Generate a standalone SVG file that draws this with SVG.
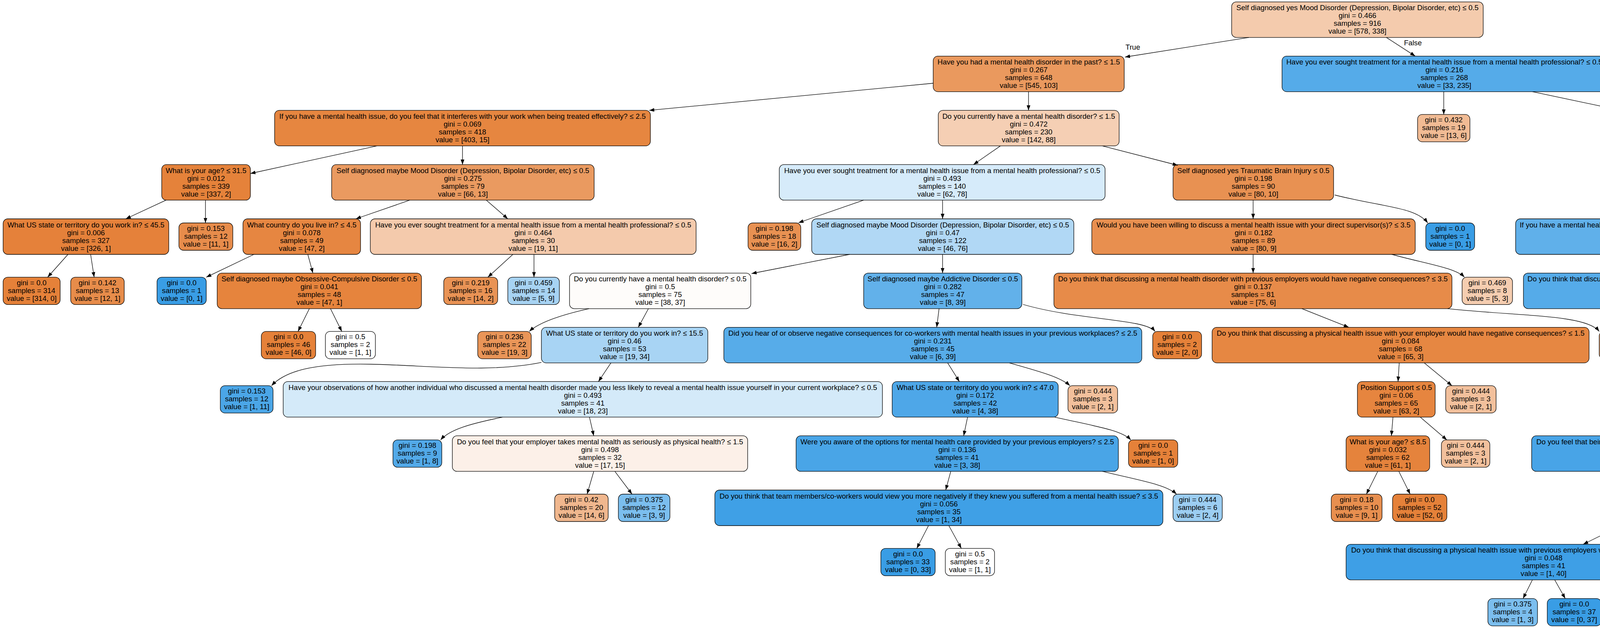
<svg xmlns="http://www.w3.org/2000/svg" width="6054" height="1607" viewBox="0 0 6054 1607">
<defs>
<marker id="arr" markerUnits="userSpaceOnUse" markerWidth="15" markerHeight="11" refX="13" refY="4.7" orient="auto"><path d="M0,0 L13,4.7 L0,9.4 z" fill="#000"/></marker>
<style>
.n rect{stroke:#000;stroke-width:1.3}
text{font-family:"Liberation Sans",Helvetica,Arial,sans-serif;font-size:18.6px;text-anchor:middle;fill:#000}
#edges path{fill:none;stroke:#000;stroke-width:1.3;marker-end:url(#arr)}
</style>
</defs>
<rect width="6054" height="1607" fill="#fff"/>
<g id="nodes">
<g id="n0" class="n"><rect x="3153" y="4.8" width="644" height="91" rx="12" fill="#f4cbad"/><text x="3475" y="26.3">Self diagnosed yes Mood Disorder (Depression, Bipolar Disorder, etc) &#8804; 0.5<tspan x="3475" dy="20">gini = 0.466</tspan><tspan x="3475" dy="20">samples = 916</tspan><tspan x="3475" dy="20">value = [578, 338]</tspan></text></g>
<g id="n1" class="n"><rect x="2389" y="143.6" width="489" height="91" rx="12" fill="#ea995e"/><text x="2633.5" y="165.1">Have you had a mental health disorder in the past? &#8804; 1.5<tspan x="2633.5" dy="20">gini = 0.267</tspan><tspan x="2633.5" dy="20">samples = 648</tspan><tspan x="2633.5" dy="20">value = [545, 103]</tspan></text></g>
<g id="n2" class="n"><rect x="3282" y="143.6" width="831" height="91" rx="12" fill="#55abe9"/><text x="3697.5" y="165.1">Have you ever sought treatment for a mental health issue from a mental health professional? &#8804; 0.5<tspan x="3697.5" dy="20">gini = 0.216</tspan><tspan x="3697.5" dy="20">samples = 268</tspan><tspan x="3697.5" dy="20">value = [33, 235]</tspan></text></g>
<g id="n3" class="n"><rect x="703" y="282.4" width="962" height="91" rx="12" fill="#e68640"/><text x="1184" y="303.9">If you have a mental health issue, do you feel that it interferes with your work when being treated effectively? &#8804; 2.5<tspan x="1184" dy="20">gini = 0.069</tspan><tspan x="1184" dy="20">samples = 418</tspan><tspan x="1184" dy="20">value = [403, 15]</tspan></text></g>
<g id="n4" class="n"><rect x="2402" y="282.4" width="463" height="91" rx="12" fill="#f5cfb4"/><text x="2633.5" y="303.9">Do you currently have a mental health disorder? &#8804; 1.5<tspan x="2633.5" dy="20">gini = 0.472</tspan><tspan x="2633.5" dy="20">samples = 230</tspan><tspan x="2633.5" dy="20">value = [142, 88]</tspan></text></g>
<g id="n5" class="n"><rect x="3629" y="292.9" width="134" height="70" rx="12" fill="#f1bb94"/><text x="3696" y="313.2">gini = 0.432<tspan x="3696" dy="20">samples = 19</tspan><tspan x="3696" dy="20">value = [13, 6]</tspan></text></g>
<g id="n6" class="n"><rect x="4212" y="282.4" width="336" height="91" rx="12" fill="#4aa6e7"/><text x="4380" y="303.9">Self diagnosed yes Transgender &#8804; 0.5<tspan x="4380" dy="20">gini = 0.148</tspan><tspan x="4380" dy="20">samples = 249</tspan><tspan x="4380" dy="20">value = [20, 229]</tspan></text></g>
<g id="n7" class="n"><rect x="414" y="421.2" width="227" height="91" rx="12" fill="#e5823a"/><text x="527.5" y="442.7">What is your age? &#8804; 31.5<tspan x="527.5" dy="20">gini = 0.012</tspan><tspan x="527.5" dy="20">samples = 339</tspan><tspan x="527.5" dy="20">value = [337, 2]</tspan></text></g>
<g id="n8" class="n"><rect x="849" y="421.2" width="672" height="91" rx="12" fill="#ea9a60"/><text x="1185" y="442.7">Self diagnosed maybe Mood Disorder (Depression, Bipolar Disorder, etc) &#8804; 0.5<tspan x="1185" dy="20">gini = 0.275</tspan><tspan x="1185" dy="20">samples = 79</tspan><tspan x="1185" dy="20">value = [66, 13]</tspan></text></g>
<g id="n9" class="n"><rect x="1995" y="421.2" width="834" height="91" rx="12" fill="#d6ebfa"/><text x="2412" y="442.7">Have you ever sought treatment for a mental health issue from a mental health professional? &#8804; 0.5<tspan x="2412" dy="20">gini = 0.493</tspan><tspan x="2412" dy="20">samples = 140</tspan><tspan x="2412" dy="20">value = [62, 78]</tspan></text></g>
<g id="n10" class="n"><rect x="3003" y="421.2" width="411" height="91" rx="12" fill="#e89152"/><text x="3208.5" y="442.7">Self diagnosed yes Traumatic Brain Injury &#8804; 0.5<tspan x="3208.5" dy="20">gini = 0.198</tspan><tspan x="3208.5" dy="20">samples = 90</tspan><tspan x="3208.5" dy="20">value = [80, 10]</tspan></text></g>
<g id="n11" class="n"><rect x="4268" y="421.2" width="225" height="91" rx="12" fill="#49a5e7"/><text x="4380.5" y="442.7">What is your age? &#8804; 10.5<tspan x="4380.5" dy="20">gini = 0.141</tspan><tspan x="4380.5" dy="20">samples = 248</tspan><tspan x="4380.5" dy="20">value = [19, 229]</tspan></text></g>
<g id="n12" class="n"><rect x="4521" y="431.7" width="126" height="70" rx="12" fill="#e58139"/><text x="4584" y="452">gini = 0.0<tspan x="4584" dy="20">samples = 1</tspan><tspan x="4584" dy="20">value = [1, 0]</tspan></text></g>
<g id="n13" class="n"><rect x="8" y="560" width="424" height="91" rx="12" fill="#e5813a"/><text x="220" y="581.5">What US state or territory do you work in? &#8804; 45.5<tspan x="220" dy="20">gini = 0.006</tspan><tspan x="220" dy="20">samples = 327</tspan><tspan x="220" dy="20">value = [326, 1]</tspan></text></g>
<g id="n14" class="n"><rect x="458" y="570.5" width="138" height="70" rx="12" fill="#e78c4b"/><text x="527" y="590.8">gini = 0.153<tspan x="527" dy="20">samples = 12</tspan><tspan x="527" dy="20">value = [11, 1]</tspan></text></g>
<g id="n15" class="n"><rect x="622" y="560" width="301" height="91" rx="12" fill="#e68641"/><text x="772.5" y="581.5">What country do you live in? &#8804; 4.5<tspan x="772.5" dy="20">gini = 0.078</tspan><tspan x="772.5" dy="20">samples = 49</tspan><tspan x="772.5" dy="20">value = [47, 2]</tspan></text></g>
<g id="n16" class="n"><rect x="948" y="560" width="834" height="91" rx="12" fill="#f4caac"/><text x="1365" y="581.5">Have you ever sought treatment for a mental health issue from a mental health professional? &#8804; 0.5<tspan x="1365" dy="20">gini = 0.464</tspan><tspan x="1365" dy="20">samples = 30</tspan><tspan x="1365" dy="20">value = [19, 11]</tspan></text></g>
<g id="n17" class="n"><rect x="1915" y="570.5" width="135" height="70" rx="12" fill="#e89152"/><text x="1982.5" y="590.8">gini = 0.198<tspan x="1982.5" dy="20">samples = 18</tspan><tspan x="1982.5" dy="20">value = [16, 2]</tspan></text></g>
<g id="n18" class="n"><rect x="2078" y="560" width="671" height="91" rx="12" fill="#b1d8f5"/><text x="2413.5" y="581.5">Self diagnosed maybe Mood Disorder (Depression, Bipolar Disorder, etc) &#8804; 0.5<tspan x="2413.5" dy="20">gini = 0.47</tspan><tspan x="2413.5" dy="20">samples = 122</tspan><tspan x="2413.5" dy="20">value = [46, 76]</tspan></text></g>
<g id="n19" class="n"><rect x="2795" y="560" width="828" height="91" rx="12" fill="#e88f4f"/><text x="3209" y="581.5">Would you have been willing to discuss a mental health issue with your direct supervisor(s)? &#8804; 3.5<tspan x="3209" dy="20">gini = 0.182</tspan><tspan x="3209" dy="20">samples = 89</tspan><tspan x="3209" dy="20">value = [80, 9]</tspan></text></g>
<g id="n20" class="n"><rect x="3650" y="570.5" width="125" height="70" rx="12" fill="#399de5"/><text x="3712.5" y="590.8">gini = 0.0<tspan x="3712.5" dy="20">samples = 1</tspan><tspan x="3712.5" dy="20">value = [0, 1]</tspan></text></g>
<g id="n21" class="n"><rect x="3880" y="560" width="1003" height="91" rx="12" fill="#60b0ea"/><text x="4381.5" y="581.5">If you have a mental health issue, do you feel that it interferes with your work when NOT being treated effectively? &#8804; 3.5<tspan x="4381.5" dy="20">gini = 0.274</tspan><tspan x="4381.5" dy="20">samples = 55</tspan><tspan x="4381.5" dy="20">value = [9, 46]</tspan></text></g>
<g id="n22" class="n"><rect x="4910" y="560" width="488" height="91" rx="12" fill="#44a2e6"/><text x="5154" y="581.5">Have you had a mental health disorder in the past? &#8804; 1.5<tspan x="5154" dy="20">gini = 0.098</tspan><tspan x="5154" dy="20">samples = 193</tspan><tspan x="5154" dy="20">value = [10, 183]</tspan></text></g>
<g id="n23" class="n"><rect x="8" y="709.3" width="146" height="70" rx="12" fill="#e58139"/><text x="81" y="729.6">gini = 0.0<tspan x="81" dy="20">samples = 314</tspan><tspan x="81" dy="20">value = [314, 0]</tspan></text></g>
<g id="n24" class="n"><rect x="181" y="709.3" width="137" height="70" rx="12" fill="#e78c4a"/><text x="249.5" y="729.6">gini = 0.142<tspan x="249.5" dy="20">samples = 13</tspan><tspan x="249.5" dy="20">value = [12, 1]</tspan></text></g>
<g id="n25" class="n"><rect x="402" y="709.3" width="126" height="70" rx="12" fill="#399de5"/><text x="465" y="729.6">gini = 0.0<tspan x="465" dy="20">samples = 1</tspan><tspan x="465" dy="20">value = [0, 1]</tspan></text></g>
<g id="n26" class="n"><rect x="556" y="698.8" width="523" height="91" rx="12" fill="#e6843d"/><text x="817.5" y="720.3">Self diagnosed maybe Obsessive-Compulsive Disorder &#8804; 0.5<tspan x="817.5" dy="20">gini = 0.041</tspan><tspan x="817.5" dy="20">samples = 48</tspan><tspan x="817.5" dy="20">value = [47, 1]</tspan></text></g>
<g id="n27" class="n"><rect x="1136" y="709.3" width="138" height="70" rx="12" fill="#e99355"/><text x="1205" y="729.6">gini = 0.219<tspan x="1205" dy="20">samples = 16</tspan><tspan x="1205" dy="20">value = [14, 2]</tspan></text></g>
<g id="n28" class="n"><rect x="1300" y="709.3" width="132" height="70" rx="12" fill="#a7d3f3"/><text x="1366" y="729.6">gini = 0.459<tspan x="1366" dy="20">samples = 14</tspan><tspan x="1366" dy="20">value = [5, 9]</tspan></text></g>
<g id="n29" class="n"><rect x="1458" y="698.8" width="464" height="91" rx="12" fill="#fefcfa"/><text x="1690" y="720.3">Do you currently have a mental health disorder? &#8804; 0.5<tspan x="1690" dy="20">gini = 0.5</tspan><tspan x="1690" dy="20">samples = 75</tspan><tspan x="1690" dy="20">value = [38, 37]</tspan></text></g>
<g id="n30" class="n"><rect x="2211" y="698.8" width="405" height="91" rx="12" fill="#62b1ea"/><text x="2413.5" y="720.3">Self diagnosed maybe Addictive Disorder &#8804; 0.5<tspan x="2413.5" dy="20">gini = 0.282</tspan><tspan x="2413.5" dy="20">samples = 47</tspan><tspan x="2413.5" dy="20">value = [8, 39]</tspan></text></g>
<g id="n31" class="n"><rect x="2698" y="698.8" width="1019" height="91" rx="12" fill="#e78b49"/><text x="3207.5" y="720.3">Do you think that discussing a mental health disorder with previous employers would have negative consequences? &#8804; 3.5<tspan x="3207.5" dy="20">gini = 0.137</tspan><tspan x="3207.5" dy="20">samples = 81</tspan><tspan x="3207.5" dy="20">value = [75, 6]</tspan></text></g>
<g id="n32" class="n"><rect x="3743" y="709.3" width="129" height="70" rx="12" fill="#f5cdb0"/><text x="3807.5" y="729.6">gini = 0.469<tspan x="3807.5" dy="20">samples = 8</tspan><tspan x="3807.5" dy="20">value = [5, 3]</tspan></text></g>
<g id="n33" class="n"><rect x="3900" y="698.8" width="962" height="91" rx="12" fill="#55abe9"/><text x="4381" y="720.3">Do you think that discussing a physical health issue with your employer would have negative consequences? &#8804; 1.5<tspan x="4381" dy="20">gini = 0.215</tspan><tspan x="4381" dy="20">samples = 49</tspan><tspan x="4381" dy="20">value = [6, 43]</tspan></text></g>
<g id="n34" class="n"><rect x="4889" y="709.3" width="125" height="70" rx="12" fill="#ffffff"/><text x="4951.5" y="729.6">gini = 0.5<tspan x="4951.5" dy="20">samples = 6</tspan><tspan x="4951.5" dy="20">value = [3, 3]</tspan></text></g>
<g id="n35" class="n"><rect x="5068" y="709.3" width="124" height="70" rx="12" fill="#7bbeee"/><text x="5130" y="729.6">gini = 0.375<tspan x="5130" dy="20">samples = 8</tspan><tspan x="5130" dy="20">value = [2, 6]</tspan></text></g>
<g id="n36" class="n"><rect x="5220" y="698.8" width="827" height="91" rx="12" fill="#42a1e6"/><text x="5633.5" y="720.3">Would you have been willing to discuss a mental health issue with your direct supervisor(s)? &#8804; 3.5<tspan x="5633.5" dy="20">gini = 0.083</tspan><tspan x="5633.5" dy="20">samples = 185</tspan><tspan x="5633.5" dy="20">value = [8, 177]</tspan></text></g>
<g id="n37" class="n"><rect x="669" y="848.1" width="139" height="70" rx="12" fill="#e58139"/><text x="738.5" y="868.4">gini = 0.0<tspan x="738.5" dy="20">samples = 46</tspan><tspan x="738.5" dy="20">value = [46, 0]</tspan></text></g>
<g id="n38" class="n"><rect x="833" y="848.1" width="128" height="70" rx="12" fill="#ffffff"/><text x="897" y="868.4">gini = 0.5<tspan x="897" dy="20">samples = 2</tspan><tspan x="897" dy="20">value = [1, 1]</tspan></text></g>
<g id="n39" class="n"><rect x="1223" y="848.1" width="137" height="70" rx="12" fill="#e99558"/><text x="1291.5" y="868.4">gini = 0.236<tspan x="1291.5" dy="20">samples = 22</tspan><tspan x="1291.5" dy="20">value = [19, 3]</tspan></text></g>
<g id="n40" class="n"><rect x="1386" y="837.6" width="426" height="91" rx="12" fill="#a8d4f4"/><text x="1599" y="859.1">What US state or territory do you work in? &#8804; 15.5<tspan x="1599" dy="20">gini = 0.46</tspan><tspan x="1599" dy="20">samples = 53</tspan><tspan x="1599" dy="20">value = [19, 34]</tspan></text></g>
<g id="n41" class="n"><rect x="1853" y="837.6" width="1070" height="91" rx="12" fill="#57ace9"/><text x="2388" y="859.1">Did you hear of or observe negative consequences for co-workers with mental health issues in your previous workplaces? &#8804; 2.5<tspan x="2388" dy="20">gini = 0.231</tspan><tspan x="2388" dy="20">samples = 45</tspan><tspan x="2388" dy="20">value = [6, 39]</tspan></text></g>
<g id="n42" class="n"><rect x="2951" y="848.1" width="125" height="70" rx="12" fill="#e58139"/><text x="3013.5" y="868.4">gini = 0.0<tspan x="3013.5" dy="20">samples = 2</tspan><tspan x="3013.5" dy="20">value = [2, 0]</tspan></text></g>
<g id="n43" class="n"><rect x="3103" y="837.6" width="965" height="91" rx="12" fill="#e68742"/><text x="3585.5" y="859.1">Do you think that discussing a physical health issue with your employer would have negative consequences? &#8804; 1.5<tspan x="3585.5" dy="20">gini = 0.084</tspan><tspan x="3585.5" dy="20">samples = 68</tspan><tspan x="3585.5" dy="20">value = [65, 3]</tspan></text></g>
<g id="n44" class="n"><rect x="4094" y="848.1" width="138" height="70" rx="12" fill="#eda774"/><text x="4163" y="868.4">gini = 0.355<tspan x="4163" dy="20">samples = 13</tspan><tspan x="4163" dy="20">value = [10, 3]</tspan></text></g>
<g id="n45" class="n"><rect x="4268" y="837.6" width="215" height="91" rx="12" fill="#4ca7e8"/><text x="4375.5" y="859.1">What is your age? &#8804; 9.5<tspan x="4375.5" dy="20">gini = 0.162</tspan><tspan x="4375.5" dy="20">samples = 45</tspan><tspan x="4375.5" dy="20">value = [4, 41]</tspan></text></g>
<g id="n46" class="n"><rect x="4510" y="848.1" width="127" height="70" rx="12" fill="#ffffff"/><text x="4573.5" y="868.4">gini = 0.5<tspan x="4573.5" dy="20">samples = 4</tspan><tspan x="4573.5" dy="20">value = [2, 2]</tspan></text></g>
<g id="n47" class="n"><rect x="4843" y="837.6" width="754" height="91" rx="12" fill="#40a0e6"/><text x="5220" y="859.1">Would you bring up a mental health issue with a potential employer in an interview? &#8804; 0.5<tspan x="5220" dy="20">gini = 0.065</tspan><tspan x="5220" dy="20">samples = 178</tspan><tspan x="5220" dy="20">value = [6, 172]</tspan></text></g>
<g id="n48" class="n"><rect x="5625" y="848.1" width="126" height="70" rx="12" fill="#88c4ef"/><text x="5688" y="868.4">gini = 0.408<tspan x="5688" dy="20">samples = 7</tspan><tspan x="5688" dy="20">value = [2, 5]</tspan></text></g>
<g id="n49" class="n"><rect x="564" y="986.9" width="135" height="70" rx="12" fill="#4ba6e7"/><text x="631.5" y="1007.2">gini = 0.153<tspan x="631.5" dy="20">samples = 12</tspan><tspan x="631.5" dy="20">value = [1, 11]</tspan></text></g>
<g id="n50" class="n"><rect x="725" y="976.4" width="1534" height="91" rx="12" fill="#d4eaf9"/><text x="1492" y="997.9">Have your observations of how another individual who discussed a mental health disorder made you less likely to reveal a mental health issue yourself in your current workplace? &#8804; 0.5<tspan x="1492" dy="20">gini = 0.493</tspan><tspan x="1492" dy="20">samples = 41</tspan><tspan x="1492" dy="20">value = [18, 23]</tspan></text></g>
<g id="n51" class="n"><rect x="2284" y="976.4" width="425" height="91" rx="12" fill="#4ea7e8"/><text x="2496.5" y="997.9">What US state or territory do you work in? &#8804; 47.0<tspan x="2496.5" dy="20">gini = 0.172</tspan><tspan x="2496.5" dy="20">samples = 42</tspan><tspan x="2496.5" dy="20">value = [4, 38]</tspan></text></g>
<g id="n52" class="n"><rect x="2734" y="986.9" width="127" height="70" rx="12" fill="#f2c09c"/><text x="2797.5" y="1007.2">gini = 0.444<tspan x="2797.5" dy="20">samples = 3</tspan><tspan x="2797.5" dy="20">value = [2, 1]</tspan></text></g>
<g id="n53" class="n"><rect x="3475" y="976.4" width="199" height="91" rx="12" fill="#e6853f"/><text x="3574.5" y="997.9">Position Support &#8804; 0.5<tspan x="3574.5" dy="20">gini = 0.06</tspan><tspan x="3574.5" dy="20">samples = 65</tspan><tspan x="3574.5" dy="20">value = [63, 2]</tspan></text></g>
<g id="n54" class="n"><rect x="3701" y="986.9" width="129" height="70" rx="12" fill="#f2c09c"/><text x="3765.5" y="1007.2">gini = 0.444<tspan x="3765.5" dy="20">samples = 3</tspan><tspan x="3765.5" dy="20">value = [2, 1]</tspan></text></g>
<g id="n55" class="n"><rect x="4297" y="986.9" width="135" height="70" rx="12" fill="#399de5"/><text x="4364.5" y="1007.2">gini = 0.0<tspan x="4364.5" dy="20">samples = 32</tspan><tspan x="4364.5" dy="20">value = [0, 32]</tspan></text></g>
<g id="n56" class="n"><rect x="4461" y="986.9" width="128" height="70" rx="12" fill="#91c9f1"/><text x="4525" y="1007.2">gini = 0.426<tspan x="4525" dy="20">samples = 13</tspan><tspan x="4525" dy="20">value = [4, 9]</tspan></text></g>
<g id="n57" class="n"><rect x="4667" y="976.4" width="379" height="91" rx="12" fill="#4ca7e8"/><text x="4856.5" y="997.9">Self diagnosed yes Addictive Disorder &#8804; 0.5<tspan x="4856.5" dy="20">gini = 0.162</tspan><tspan x="4856.5" dy="20">samples = 45</tspan><tspan x="4856.5" dy="20">value = [4, 41]</tspan></text></g>
<g id="n58" class="n"><rect x="5073" y="976.4" width="323" height="91" rx="12" fill="#3c9ee5"/><text x="5234.5" y="997.9">What country do you work in? &#8804; 13.5<tspan x="5234.5" dy="20">gini = 0.03</tspan><tspan x="5234.5" dy="20">samples = 133</tspan><tspan x="5234.5" dy="20">value = [2, 131]</tspan></text></g>
<g id="n59" class="n"><rect x="1006" y="1125.7" width="125" height="70" rx="12" fill="#52a9e8"/><text x="1068.5" y="1146">gini = 0.198<tspan x="1068.5" dy="20">samples = 9</tspan><tspan x="1068.5" dy="20">value = [1, 8]</tspan></text></g>
<g id="n60" class="n"><rect x="1158" y="1115.2" width="756" height="91" rx="12" fill="#fcf0e8"/><text x="1536" y="1136.7">Do you feel that your employer takes mental health as seriously as physical health? &#8804; 1.5<tspan x="1536" dy="20">gini = 0.498</tspan><tspan x="1536" dy="20">samples = 32</tspan><tspan x="1536" dy="20">value = [17, 15]</tspan></text></g>
<g id="n61" class="n"><rect x="2038" y="1115.2" width="825" height="91" rx="12" fill="#49a5e7"/><text x="2450.5" y="1136.7">Were you aware of the options for mental health care provided by your previous employers? &#8804; 2.5<tspan x="2450.5" dy="20">gini = 0.136</tspan><tspan x="2450.5" dy="20">samples = 41</tspan><tspan x="2450.5" dy="20">value = [3, 38]</tspan></text></g>
<g id="n62" class="n"><rect x="2889" y="1125.7" width="126" height="70" rx="12" fill="#e58139"/><text x="2952" y="1146">gini = 0.0<tspan x="2952" dy="20">samples = 1</tspan><tspan x="2952" dy="20">value = [1, 0]</tspan></text></g>
<g id="n63" class="n"><rect x="3446" y="1115.2" width="214" height="91" rx="12" fill="#e5833c"/><text x="3553" y="1136.7">What is your age? &#8804; 8.5<tspan x="3553" dy="20">gini = 0.032</tspan><tspan x="3553" dy="20">samples = 62</tspan><tspan x="3553" dy="20">value = [61, 1]</tspan></text></g>
<g id="n64" class="n"><rect x="3690" y="1125.7" width="124" height="70" rx="12" fill="#f2c09c"/><text x="3752" y="1146">gini = 0.444<tspan x="3752" dy="20">samples = 3</tspan><tspan x="3752" dy="20">value = [2, 1]</tspan></text></g>
<g id="n65" class="n"><rect x="3921" y="1115.2" width="853" height="91" rx="12" fill="#48a4e7"/><text x="4347.5" y="1136.7">Do you feel that being identified as a person with a mental health issue would hurt your career? &#8804; 3.5<tspan x="4347.5" dy="20">gini = 0.127</tspan><tspan x="4347.5" dy="20">samples = 44</tspan><tspan x="4347.5" dy="20">value = [3, 41]</tspan></text></g>
<g id="n66" class="n"><rect x="4801" y="1125.7" width="126" height="70" rx="12" fill="#e58139"/><text x="4864" y="1146">gini = 0.0<tspan x="4864" dy="20">samples = 1</tspan><tspan x="4864" dy="20">value = [1, 0]</tspan></text></g>
<g id="n67" class="n"><rect x="4992" y="1125.7" width="127" height="70" rx="12" fill="#61b1ea"/><text x="5055.5" y="1146">gini = 0.278<tspan x="5055.5" dy="20">samples = 6</tspan><tspan x="5055.5" dy="20">value = [1, 5]</tspan></text></g>
<g id="n68" class="n"><rect x="5146" y="1115.2" width="258" height="91" rx="12" fill="#3b9ee5"/><text x="5275" y="1136.7">Do you work remotely? &#8804; 0.5<tspan x="5275" dy="20">gini = 0.016</tspan><tspan x="5275" dy="20">samples = 127</tspan><tspan x="5275" dy="20">value = [1, 126]</tspan></text></g>
<g id="n69" class="n"><rect x="1420" y="1264.5" width="137" height="70" rx="12" fill="#f0b78e"/><text x="1488.5" y="1284.8">gini = 0.42<tspan x="1488.5" dy="20">samples = 20</tspan><tspan x="1488.5" dy="20">value = [14, 6]</tspan></text></g>
<g id="n70" class="n"><rect x="1583" y="1264.5" width="132" height="70" rx="12" fill="#7bbeee"/><text x="1649" y="1284.8">gini = 0.375<tspan x="1649" dy="20">samples = 12</tspan><tspan x="1649" dy="20">value = [3, 9]</tspan></text></g>
<g id="n71" class="n"><rect x="1830" y="1254" width="1147" height="91" rx="12" fill="#3fa0e6"/><text x="2403.5" y="1275.5">Do you think that team members/co-workers would view you more negatively if they knew you suffered from a mental health issue? &#8804; 3.5<tspan x="2403.5" dy="20">gini = 0.056</tspan><tspan x="2403.5" dy="20">samples = 35</tspan><tspan x="2403.5" dy="20">value = [1, 34]</tspan></text></g>
<g id="n72" class="n"><rect x="3003" y="1264.5" width="126" height="70" rx="12" fill="#9ccef2"/><text x="3066" y="1284.8">gini = 0.444<tspan x="3066" dy="20">samples = 6</tspan><tspan x="3066" dy="20">value = [2, 4]</tspan></text></g>
<g id="n73" class="n"><rect x="3408" y="1264.5" width="130" height="70" rx="12" fill="#e88f4f"/><text x="3473" y="1284.8">gini = 0.18<tspan x="3473" dy="20">samples = 10</tspan><tspan x="3473" dy="20">value = [9, 1]</tspan></text></g>
<g id="n74" class="n"><rect x="3565" y="1264.5" width="139" height="70" rx="12" fill="#e58139"/><text x="3634.5" y="1284.8">gini = 0.0<tspan x="3634.5" dy="20">samples = 52</tspan><tspan x="3634.5" dy="20">value = [52, 0]</tspan></text></g>
<g id="n75" class="n"><rect x="4142" y="1254" width="212" height="91" rx="12" fill="#43a2e6"/><text x="4248" y="1275.5">Position Designer &#8804; 0.5<tspan x="4248" dy="20">gini = 0.089</tspan><tspan x="4248" dy="20">samples = 43</tspan><tspan x="4248" dy="20">value = [2, 41]</tspan></text></g>
<g id="n76" class="n"><rect x="4381" y="1264.5" width="127" height="70" rx="12" fill="#e58139"/><text x="4444.5" y="1284.8">gini = 0.0<tspan x="4444.5" dy="20">samples = 1</tspan><tspan x="4444.5" dy="20">value = [1, 0]</tspan></text></g>
<g id="n77" class="n"><rect x="5121" y="1264.5" width="139" height="70" rx="12" fill="#45a3e7"/><text x="5190.5" y="1284.8">gini = 0.105<tspan x="5190.5" dy="20">samples = 18</tspan><tspan x="5190.5" dy="20">value = [1, 17]</tspan></text></g>
<g id="n78" class="n"><rect x="5284" y="1264.5" width="149" height="70" rx="12" fill="#399de5"/><text x="5358.5" y="1284.8">gini = 0.0<tspan x="5358.5" dy="20">samples = 109</tspan><tspan x="5358.5" dy="20">value = [0, 109]</tspan></text></g>
<g id="n79" class="n"><rect x="2255" y="1403.3" width="139" height="70" rx="12" fill="#399de5"/><text x="2324.5" y="1423.6">gini = 0.0<tspan x="2324.5" dy="20">samples = 33</tspan><tspan x="2324.5" dy="20">value = [0, 33]</tspan></text></g>
<g id="n80" class="n"><rect x="2420" y="1403.3" width="126" height="70" rx="12" fill="#ffffff"/><text x="2483" y="1423.6">gini = 0.5<tspan x="2483" dy="20">samples = 2</tspan><tspan x="2483" dy="20">value = [1, 1]</tspan></text></g>
<g id="n81" class="n"><rect x="3446" y="1392.8" width="1011" height="91" rx="12" fill="#3e9fe6"/><text x="3951.5" y="1414.3">Do you think that discussing a physical health issue with previous employers would have negative consequences? &#8804; 0.5<tspan x="3951.5" dy="20">gini = 0.048</tspan><tspan x="3951.5" dy="20">samples = 41</tspan><tspan x="3951.5" dy="20">value = [1, 40]</tspan></text></g>
<g id="n82" class="n"><rect x="4482" y="1403.3" width="129" height="70" rx="12" fill="#ffffff"/><text x="4546.5" y="1423.6">gini = 0.5<tspan x="4546.5" dy="20">samples = 2</tspan><tspan x="4546.5" dy="20">value = [1, 1]</tspan></text></g>
<g id="n83" class="n"><rect x="3809" y="1531.6" width="127" height="70" rx="12" fill="#7bbeee"/><text x="3872.5" y="1551.9">gini = 0.375<tspan x="3872.5" dy="20">samples = 4</tspan><tspan x="3872.5" dy="20">value = [1, 3]</tspan></text></g>
<g id="n84" class="n"><rect x="3961" y="1531.6" width="138" height="70" rx="12" fill="#399de5"/><text x="4030" y="1551.9">gini = 0.0<tspan x="4030" dy="20">samples = 37</tspan><tspan x="4030" dy="20">value = [0, 37]</tspan></text></g>
</g>
<g id="edges">
<path d="M3197,95.8 L2880,146"/>
<path d="M3549,95.8 L3623,143.6"/>
<path d="M2389,213 L1662,282.4"/>
<path d="M2633,234.6 L2633,282.4"/>
<path d="M3696,234.6 L3696,292.9"/>
<path d="M3923,234.6 L4213,296"/>
<path d="M965,373.4 L641,444"/>
<path d="M1184,373.4 L1184,421.2"/>
<path d="M2561,373.4 L2492,421.2"/>
<path d="M2822,373.4 L3015,423"/>
<path d="M4380,373.4 L4380,421.2"/>
<path d="M4448,373.4 L4529,431.7"/>
<path d="M425,512.2 L322,560"/>
<path d="M526,512.2 L526,570.5"/>
<path d="M1049,512.2 L911,560"/>
<path d="M1245,512.2 L1300,560"/>
<path d="M2211,512.2 L2044,570"/>
<path d="M2413,512.2 L2413,560"/>
<path d="M3208,512.2 L3208,560"/>
<path d="M3417,499 C3540,530 3625,530 3655,570.5"/>
<path d="M4380,512.2 L4380,560"/>
<path d="M4495,509 C4600,555 4800,525 4908,563"/>
<path d="M174,651 L122,709.3"/>
<path d="M232,651 L241,709.3"/>
<path d="M650,651 L528,709.3"/>
<path d="M788,651 L801,698.8"/>
<path d="M1313,651 L1249,709.3"/>
<path d="M1367,651 L1367,709.3"/>
<path d="M2175,651 L1924,700"/>
<path d="M2413,651 L2413,698.8"/>
<path d="M3208,651 L3208,698.8"/>
<path d="M3563,651 C3650,675 3725,685 3749,709.3"/>
<path d="M4380,651 L4380,698.8"/>
<path d="M4708,651 C4800,675 4870,685 4896,709.3"/>
<path d="M5145,651 L5136,709.3"/>
<path d="M5310,651 L5474,698.8"/>
<path d="M792,789.8 L763,848.1"/>
<path d="M846,789.8 L875,848.1"/>
<path d="M1508,789.8 C1440,805 1380,825 1355,848.1"/>
<path d="M1660,789.8 L1634,837.6"/>
<path d="M2404,789.8 L2398,837.6"/>
<path d="M2619,779 C2760,820 2930,815 2957,848.1"/>
<path d="M3333,789.8 L3453,837.6"/>
<path d="M3706,789.8 C3900,810 4060,805 4094,848.1"/>
<path d="M4380,789.8 L4377,837.6"/>
<path d="M4445,789.8 L4521,848.1"/>
<path d="M5497,789.8 L5362,837.6"/>
<path d="M5654,789.8 L5673,848.1"/>
<path d="M1386,927.4 C1250,955 1100,935 950,932 C800,929 730,950 695,986.9"/>
<path d="M1564,928.6 L1532,976.4"/>
<path d="M2426,928.6 L2456,976.4"/>
<path d="M2584,928.6 C2660,950 2715,965 2739,986.9"/>
<path d="M3582,928.6 L3579,976.4"/>
<path d="M3646,928.6 L3717,986.9"/>
<path d="M4371,928.6 L4368,986.9"/>
<path d="M4426,928.6 L4484,986.9"/>
<path d="M5100,928.6 L4982,976.4"/>
<path d="M5226,928.6 L5230,976.4"/>
<path d="M1287,1067.4 C1200,1085 1150,1100 1128,1125.7"/>
<path d="M1509,1067.4 L1520,1115.2"/>
<path d="M2477,1067.4 L2467,1115.2"/>
<path d="M2700,1067.4 C2800,1090 2870,1100 2895,1125.7"/>
<path d="M3566,1067.4 L3562,1115.2"/>
<path d="M3636,1067.4 L3704,1125.7"/>
<path d="M4686,1067.4 L4517,1115.2"/>
<path d="M4860,1067.4 L4861,1125.7"/>
<path d="M5175,1067.4 L5108,1125.7"/>
<path d="M5252,1067.4 L5260,1115.2"/>
<path d="M1520,1206.2 L1503,1264.5"/>
<path d="M1574,1206.2 L1618,1264.5"/>
<path d="M2434,1206.2 L2421,1254"/>
<path d="M2822,1206.2 C2920,1230 2985,1240 3012,1264.5"/>
<path d="M3527,1206.2 L3498,1264.5"/>
<path d="M3581,1206.2 L3610,1264.5"/>
<path d="M4311,1206.2 L4286,1254"/>
<path d="M4381,1206.2 L4416,1264.5"/>
<path d="M5245,1206.2 L5216,1264.5"/>
<path d="M5303,1206.2 L5335,1264.5"/>
<path d="M2377,1345 L2347,1403.3"/>
<path d="M2429,1345 L2461,1403.3"/>
<path d="M4150,1345 L4053,1392.8"/>
<path d="M4355,1342 L4486,1403.3"/>
<path d="M3923,1483.8 L3899,1531.6"/>
<path d="M3980,1483.8 L4007,1531.6"/>
</g>
<g id="edge-labels">
<text x="2900" y="127">True</text>
<text x="3617" y="116">False</text>
</g>
</svg>
